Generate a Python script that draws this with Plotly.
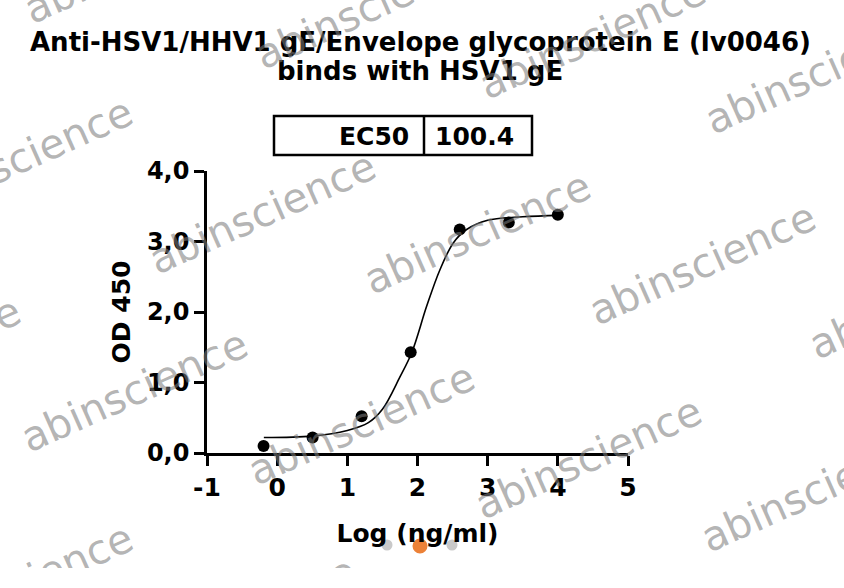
import plotly.graph_objects as go

# ---- data ----
log_conc = [-0.194, 0.505, 1.204, 1.903, 2.602, 3.301, 4.0]
od450 = [0.10, 0.22, 0.52, 1.43, 3.17, 3.27, 3.38]

fit_x = [-0.19, 0.5, 1.0, 1.3, 1.5, 1.75, 1.92, 2.13, 2.32, 2.51, 2.70, 3.0, 3.5, 4.03]
fit_y = [0.22, 0.24, 0.32, 0.43, 0.62, 1.08, 1.43, 2.08, 2.60, 2.98, 3.17, 3.30, 3.35, 3.37]

x_ticks = [-1, 0, 1, 2, 3, 4, 5]
y_ticks = [0, 1, 2, 3, 4]
y_tick_labels = ["0,0", "1,0", "2,0", "3,0", "4,0"]

ec50_label = "EC50"
ec50_value = "100.4"

title_line1 = "Anti-HSV1/HHV1 gE/Envelope glycoprotein E (lv0046)"
title_line2 = "binds with HSV1 gE"
x_title = "Log (ng/ml)"
y_title = "OD 450"
watermark = "abinscience"

# ---- layout geometry (the picture itself ends at y=568; page below is white) ----
W, H = 844, 568
L, R, T, B = 207, 216, 171, 115
PW, PH = W - L - R, H - T - B


def px(xp):
    return (xp - L) / PW


def py(yp):
    return (H - B - yp) / PH


FONT = "DejaVu Sans"

fig = go.Figure()
fig.add_trace(go.Scatter(x=fit_x, y=fit_y, mode="lines", line=dict(color="black", width=1.6, shape="spline"),
                         hoverinfo="skip", showlegend=False, cliponaxis=False))
fig.add_trace(go.Scatter(x=log_conc, y=od450, mode="markers", marker=dict(color="black", size=12),
                         showlegend=False, cliponaxis=False))

annotations = []
# title
annotations.append(dict(text="<b>%s</b>" % title_line1, x=px(420), y=py(42), xref="paper", yref="paper",
                        showarrow=False, xanchor="center", yanchor="middle",
                        font=dict(family=FONT, size=26, color="black")))
annotations.append(dict(text="<b>%s</b>" % title_line2, x=px(420), y=py(71), xref="paper", yref="paper",
                        showarrow=False, xanchor="center", yanchor="middle",
                        font=dict(family=FONT, size=26, color="black")))
# EC50 table text
annotations.append(dict(text="<b>%s</b>" % ec50_label, x=px(411), y=py(136), xref="paper", yref="paper",
                        showarrow=False, xanchor="right", yanchor="middle",
                        font=dict(family=FONT, size=25, color="black")))
annotations.append(dict(text="<b>%s</b>" % ec50_value, x=px(433), y=py(136), xref="paper", yref="paper",
                        showarrow=False, xanchor="left", yanchor="middle",
                        font=dict(family=FONT, size=25, color="black")))

# watermarks: start points of the full word (pixel coords)
wm_starts = [(253, 67), (477, 97), (703, 132),
             (-96, 218), (147, 272), (362, 292), (587, 323), (807, 357),
             (-208, 417), (19, 450), (246, 483), (473, 517), (699, 550)]
# watermark pieces cut by the picture's top / bottom edge: (visible text, centre px)
wm_pieces = [("abi", (55, -1)), ("ience", (80, 558)), ("ce", (332, 578))]

wm_font = dict(family=FONT, size=41, color="rgba(125,125,125,0.58)")
for (sx, sy) in wm_starts:
    annotations.append(dict(text=watermark, x=px(sx + 115), y=py(sy - 59), xref="paper", yref="paper",
                            showarrow=False, xanchor="center", yanchor="middle", textangle=-24, font=wm_font))
for (txt, (cx, cy)) in wm_pieces:
    annotations.append(dict(text=txt, x=px(cx), y=py(cy), xref="paper", yref="paper",
                            showarrow=False, xanchor="center", yanchor="middle", textangle=-24, font=wm_font))

shapes = []
# EC50 table box
shapes.append(dict(type="rect", xref="paper", yref="paper", x0=px(274), x1=px(532), y0=py(155), y1=py(116),
                   line=dict(color="black", width=2.5), fillcolor="rgba(0,0,0,0)"))
shapes.append(dict(type="line", xref="paper", yref="paper", x0=px(424), x1=px(424), y0=py(155), y1=py(116),
                   line=dict(color="black", width=2.5)))
# carousel dots
for (cx, cy, r, col) in [(387, 545, 5.5, "#c9c9c9"), (452, 545, 5.5, "#c9c9c9"), (420, 546, 7.5, "#ec8137")]:
    shapes.append(dict(type="circle", xref="paper", yref="paper", x0=px(cx - r), x1=px(cx + r),
                       y0=py(cy + r), y1=py(cy - r), fillcolor=col, line=dict(width=0), layer="above"))

fig.update_layout(
    width=W, height=H, margin=dict(l=L, r=R, t=T, b=B, pad=0),
    paper_bgcolor="white", plot_bgcolor="white",
    annotations=annotations, shapes=shapes, showlegend=False,
    xaxis=dict(range=[-1, 5], tickvals=x_ticks, ticktext=["<b>%s</b>" % v for v in x_ticks], showgrid=False,
               zeroline=False, showline=True, linecolor="black", linewidth=2.5, ticks="outside",
               ticklen=10, tickwidth=2.5, tickcolor="black",
               tickfont=dict(family=FONT, size=25, color="black"),
               title=dict(text="<b>%s</b>" % x_title, font=dict(family=FONT, size=25, color="black"), standoff=24)),
    yaxis=dict(range=[0, 4], tickvals=y_ticks, ticktext=["<b>%s</b>" % v for v in y_tick_labels], showgrid=False,
               zeroline=False, showline=True, linecolor="black", linewidth=2.5, ticks="outside",
               ticklen=10, tickwidth=2.5, tickcolor="black",
               tickfont=dict(family=FONT, size=24, color="black"),
               title=dict(text="<b>%s</b>" % y_title, font=dict(family=FONT, size=25, color="black"), standoff=10)),
)

fig.write_html("out.html", config={"displayModeBar": False},
               post_script="document.body.style.margin='0';document.body.style.overflow='hidden';")
